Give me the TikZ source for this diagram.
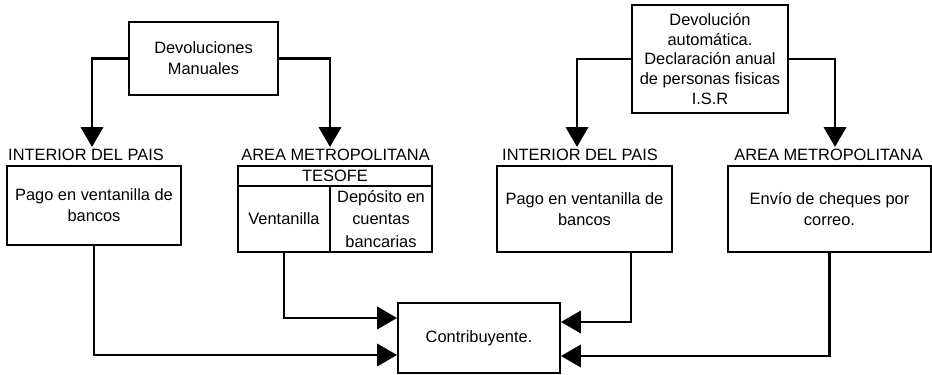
\documentclass[tikz,border=0pt]{standalone}
\usepackage{fontspec}
\setmainfont{Liberation Sans}
\usetikzlibrary{arrows.meta,calc,positioning}

\begin{document}
\begin{tikzpicture}[x=0.03cm,y=-0.03cm,
		caja/.style={draw, line width=1.6pt, align=center, inner sep=0pt,
				font=\fontsize{14}{18}\selectfont},
		etiqueta/.style={inner sep=0pt, font=\fontsize{14}{16}\selectfont},
		flecha/.style={line width=2.3pt, -{Triangle[length=17pt,width=19pt]}}]
	\useasboundingbox (0,0) rectangle (932,375);

	%--- Top boxes ---
	\node[caja, minimum width=4.47cm, minimum height=2.19cm] (man) at (203.5,58.5)
	{Devoluciones\\Manuales};
	\node[caja, minimum width=4.68cm, minimum height=3.24cm,
		font=\fontsize{14}{16.8}\selectfont] (aut) at (710,59)
	{Devolución\\automática.\\Declaración anual\\de personas fisicas\\I.S.R};

	%--- Labels over the second row ---
	\node[etiqueta] (int1) at (86,155) {INTERIOR DEL PAIS};
	\node[etiqueta] (area1) at (335.5,155) {AREA METROPOLITANA};
	\node[etiqueta] (int2) at (580,155) {INTERIOR DEL PAIS};
	\node[etiqueta] (area2) at (828.5,155) {AREA METROPOLITANA};

	%--- Second row ---
	\node[caja, minimum width=5.22cm, minimum height=2.37cm] (pago1) at (94,205.5)
	{Pago en ventanilla de\\bancos};
	\node[caja, minimum width=5.82cm, minimum height=0.6cm] (tesh) at (335,176) {TESOFE};
	\node[caja, minimum width=2.76cm, minimum height=1.98cm] (vent) at (284,219) {Ventanilla};
	\node[caja, minimum width=3.06cm, minimum height=1.98cm,
		font=\fontsize{14}{19}\selectfont] (dep) at (381,219)
	{Depósito en\\cuentas\\bancarias};
	\node[caja, minimum width=5.25cm, minimum height=2.58cm] (pago2) at (584.5,209)
	{Pago en ventanilla de\\bancos};
	\node[caja, minimum width=6.09cm, minimum height=2.58cm] (env) at (829.5,209)
	{Envío de cheques por\\correo.};

	%--- Bottom box ---
	\node[caja, minimum width=4.86cm, minimum height=2.1cm] (con) at (479,338) {Contribuyente.};

	% Arrow ends
	\coordinate (t1) at (92,147);
	\coordinate (t2) at (330,147);
	\coordinate (t3) at (577,147);
	\coordinate (t4) at (835,147);
	\coordinate (c1) at ($(con.west)+(0,17)$);
	\coordinate (c2) at ($(con.west)+(0,-20)$);
	\coordinate (c3) at ($(con.east)+(0,-16)$);
	\coordinate (c4) at ($(con.east)+(0,18)$);

	%--- Connectors ---
	\draw[flecha] (man) -| (t1);
	\draw[flecha] (man) -| (t2);
	\draw[flecha] (aut) -| (t3);
	\draw[flecha] (aut) -| (t4);
	\draw[flecha] (pago1) |- (c1);
	\draw[flecha] (vent) |- (c2);
	\draw[flecha] ($(pago2.south)+(46.5,0)$) |- (c3);
	\draw[flecha] (env) |- (c4);
\end{tikzpicture}
\end{document}
